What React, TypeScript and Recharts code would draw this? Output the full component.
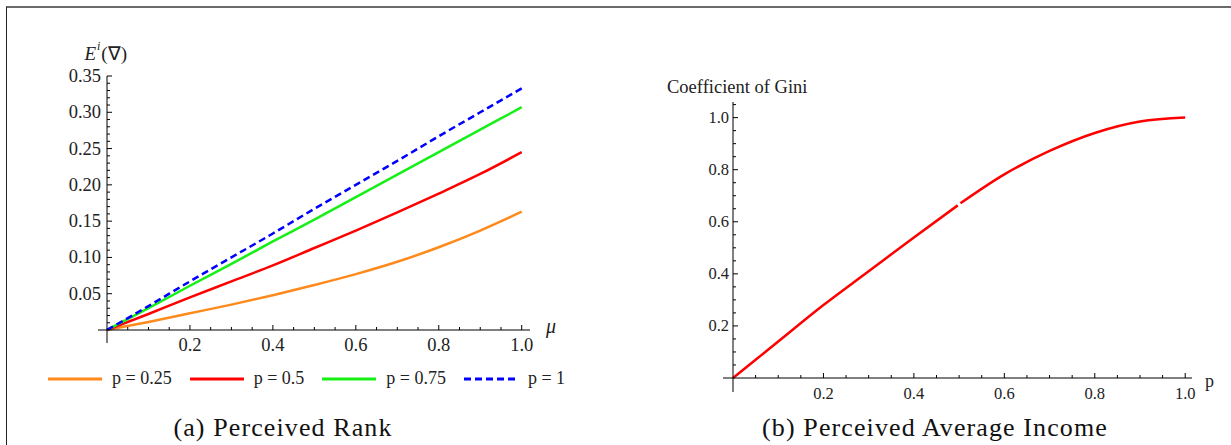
import React from "react";
import { LineChart, Line, XAxis, YAxis, Label } from "recharts";

// (a) perceived rank: E^i(∇) against μ, for four values of p
const muValues = [0, 0.1, 0.2, 0.3, 0.4, 0.5, 0.6, 0.7, 0.8, 0.9, 1.0];
const rankP025 = [0, 0.011, 0.023, 0.035, 0.048, 0.062, 0.077, 0.094, 0.114, 0.137, 0.163];
const rankP050 = [0, 0.022, 0.045, 0.067, 0.089, 0.113, 0.137, 0.162, 0.188, 0.215, 0.245];
const rankP075 = [0, 0.030, 0.061, 0.091, 0.122, 0.152, 0.183, 0.214, 0.245, 0.276, 0.307];
const rankP100 = [0, 0.033, 0.067, 0.100, 0.133, 0.167, 0.200, 0.233, 0.267, 0.300, 0.333];

// (b) perceived average income: Gini coefficient against p (curve has a small break at p = 0.5)
const giniLowP = [0, 0.1, 0.2, 0.3, 0.4, 0.497];
const giniLowV = [0, 0.14, 0.28, 0.41, 0.54, 0.663];
const giniHighP = [0.503, 0.6, 0.7, 0.8, 0.9, 1.0];
const giniHighV = [0.671, 0.782, 0.872, 0.941, 0.985, 1.0];

// tick labels
const rankXLabels = [0.2, 0.4, 0.6, 0.8, 1.0];
const rankYLabels = [0.05, 0.1, 0.15, 0.2, 0.25, 0.3, 0.35];
const giniXLabels = [0.2, 0.4, 0.6, 0.8, 1.0];
const giniYLabels = [0.2, 0.4, 0.6, 0.8, 1.0];

const FONT = '"Liberation Serif", "Times New Roman", serif';

const rankSeries = [
  { key: "p25", name: "p = 0.25", color: "#ff8a1c", values: rankP025, dash: undefined },
  { key: "p50", name: "p = 0.5", color: "#ff0000", values: rankP050, dash: undefined },
  { key: "p75", name: "p = 0.75", color: "#16f016", values: rankP075, dash: undefined },
  { key: "p100", name: "p = 1", color: "#0000ff", values: rankP100, dash: "7 4" },
];

const rankData = muValues.map((mu, i) => {
  const row: { [k: string]: number } = { mu };
  rankSeries.forEach((s) => (row[s.key] = s.values[i]));
  return row;
});

const giniLow = giniLowP.map((p, i) => ({ p, g: giniLowV[i] }));
const giniHigh = giniHighP.map((p, i) => ({ p, g: giniHighV[i] }));

// minor tick positions every `step` up to `max`
const steps = (step: number, max: number) => {
  const out: number[] = [];
  for (let i = 0; i * step <= max + 1e-9; i++) out.push(Math.round(i * step * 1000) / 1000);
  return out;
};

const isLabel = (v: number, labels: number[]) => labels.some((l) => Math.abs(l - v) < 1e-6);

const fmt = (v: number, digits: number) => v.toFixed(digits);

const makeXTick =
  (labels: number[], fontSize: number, digits: number, stub: number) =>
  ({ x, y, payload }: any) => {
    const v = payload.value;
    if (Math.abs(v) < 1e-9) {
      return <line x1={x} y1={y} x2={x} y2={y + stub} stroke="#000" strokeWidth={1} />;
    }
    const major = isLabel(v, labels);
    return (
      <g>
        <line x1={x} y1={y} x2={x} y2={y - (major ? 5 : 3)} stroke="#000" strokeWidth={1} />
        {major && (
          <text x={x} y={y + 15} textAnchor="middle" dominantBaseline="central" fontSize={fontSize} fontFamily={FONT} fill="#222">
            {fmt(v, digits)}
          </text>
        )}
      </g>
    );
  };

const makeYTick =
  (labels: number[], fontSize: number, digits: number, gap: number, stub: number) =>
  ({ x, y, payload }: any) => {
    const v = payload.value;
    if (Math.abs(v) < 1e-9) {
      return <line x1={x - stub} y1={y} x2={x} y2={y} stroke="#000" strokeWidth={1} />;
    }
    const major = isLabel(v, labels);
    return (
      <g>
        <line x1={x} y1={y} x2={x + (major ? 5 : 3)} y2={y} stroke="#000" strokeWidth={1} />
        {major && (
          <text x={x - gap} y={y} textAnchor="end" dominantBaseline="central" fontSize={fontSize} fontFamily={FONT} fill="#222">
            {fmt(v, digits)}
          </text>
        )}
      </g>
    );
  };

const RankXTick = makeXTick(rankXLabels, 18.5, 1, 13);
const RankYTick = makeYTick(rankYLabels, 18.5, 2, 6, 9);
const GiniXTick = makeXTick(giniXLabels, 16.5, 1, 14);
const GiniYTick = makeYTick(giniYLabels, 16.5, 1, 4, 10);

const axisLine = { stroke: "#000", strokeWidth: 1 };

const RankLegend = () => (
  <div
    style={{
      position: "absolute",
      left: 48,
      top: 368,
      display: "flex",
      alignItems: "center",
      fontFamily: FONT,
      fontSize: 18,
      color: "#222",
    }}
  >
    {rankSeries.map((s) => (
      <div key={s.key} style={{ display: "flex", alignItems: "center", marginRight: 18 }}>
        <svg width={54} height={6} style={{ marginRight: 10 }}>
          <line x1={0} y1={3} x2={54} y2={3} stroke={s.color} strokeWidth={3} strokeDasharray={s.dash} />
        </svg>
        <span>{s.name}</span>
      </div>
    ))}
  </div>
);

const captionStyle: React.CSSProperties = {
  position: "absolute",
  top: 414,
  fontFamily: FONT,
  fontSize: 26,
  letterSpacing: 1.1,
  lineHeight: "28px",
  textAlign: "center",
  color: "#111",
};

export default function App() {
  return (
    <div style={{ position: "absolute", left: 0, top: 0, width: 1231, height: 445, background: "#fff", overflow: "hidden" }}>
      <div
        style={{
          position: "absolute",
          left: 6,
          top: 6,
          width: 1231,
          height: 445,
          borderTop: "2px solid #6a6a6a",
          borderLeft: "1.5px solid #222",
        }}
      />

      <div style={{ position: "absolute", left: 0, top: 0 }}>
        <LineChart width={620} height={445} data={rankData} margin={{ top: 76, right: 90, bottom: 85, left: 47 }}>
          <XAxis
            dataKey="mu"
            type="number"
            domain={[0, 1.02]}
            ticks={steps(0.05, 1)}
            interval={0}
            height={30}
            tickSize={0}
            tickMargin={0}
            axisLine={axisLine}
            tickLine={false}
            tick={<RankXTick />}
          >
            <Label
              content={({ viewBox }: any) => (
                <text
                  x={viewBox.x + viewBox.width + 16}
                  y={viewBox.y - 4}
                  dominantBaseline="central"
                  fontSize={20}
                  fontStyle="italic"
                  fontFamily={FONT}
                  fill="#222"
                >
                  μ
                </text>
              )}
            />
          </XAxis>
          <YAxis
            type="number"
            domain={[0, 0.35]}
            ticks={steps(0.01, 0.35)}
            interval={0}
            width={60}
            tickSize={0}
            tickMargin={0}
            axisLine={axisLine}
            tickLine={false}
            tick={<RankYTick />}
          >
            <Label
              content={({ viewBox }: any) => (
                <text
                  x={viewBox.x + viewBox.width + 20}
                  y={viewBox.y - 23}
                  textAnchor="end"
                  dominantBaseline="central"
                  fontSize={19}
                  fontFamily={FONT}
                  fill="#222"
                >
                  <tspan fontStyle="italic">E</tspan>
                  <tspan dx={1} dy={-7} fontSize={12} fontStyle="italic">
                    i
                  </tspan>
                  <tspan dx={1} dy={7}>(∇)</tspan>
                </text>
              )}
            />
          </YAxis>
          {rankSeries.map((s) => (
            <Line
              key={s.key}
              type="monotone"
              dataKey={s.key}
              name={s.name}
              stroke={s.color}
              strokeWidth={2.5}
              strokeDasharray={s.dash}
              dot={false}
              isAnimationActive={false}
            />
          ))}
        </LineChart>
        <RankLegend />
      </div>

      <div style={{ position: "absolute", left: 620, top: 0 }}>
        <LineChart width={611} height={445} margin={{ top: 102, right: 39, bottom: 37, left: 53 }}>
          <XAxis
            dataKey="p"
            type="number"
            domain={[0, 1.015]}
            ticks={steps(0.05, 1)}
            interval={0}
            height={30}
            tickSize={0}
            tickMargin={0}
            axisLine={axisLine}
            tickLine={false}
            tick={<GiniXTick />}
            allowDuplicatedCategory={false}
          >
            <Label
              content={({ viewBox }: any) => (
                <text
                  x={viewBox.x + viewBox.width + 13}
                  y={viewBox.y + 3}
                  dominantBaseline="central"
                  fontSize={18}
                  fontFamily={FONT}
                  fill="#222"
                >
                  p
                </text>
              )}
            />
          </XAxis>
          <YAxis
            type="number"
            domain={[0, 1.06]}
            ticks={steps(0.05, 1.05)}
            interval={0}
            width={60}
            tickSize={0}
            tickMargin={0}
            axisLine={axisLine}
            tickLine={false}
            tick={<GiniYTick />}
          >
            <Label
              content={({ viewBox }: any) => (
                <text
                  x={viewBox.x + viewBox.width - 66}
                  y={viewBox.y - 15}
                  dominantBaseline="central"
                  fontSize={18.5}
                  fontFamily={FONT}
                  fill="#222"
                >
                  Coefficient of Gini
                </text>
              )}
            />
          </YAxis>
          <Line data={giniLow} type="monotone" dataKey="g" stroke="#ff0000" strokeWidth={2.5} dot={false} isAnimationActive={false} />
          <Line data={giniHigh} type="monotone" dataKey="g" stroke="#ff0000" strokeWidth={2.5} dot={false} isAnimationActive={false} />
        </LineChart>
      </div>

      <div style={{ ...captionStyle, left: 0, width: 566 }}>(a) Perceived Rank</div>
      <div style={{ ...captionStyle, left: 635, width: 600 }}>(b) Perceived Average Income</div>
    </div>
  );
}
